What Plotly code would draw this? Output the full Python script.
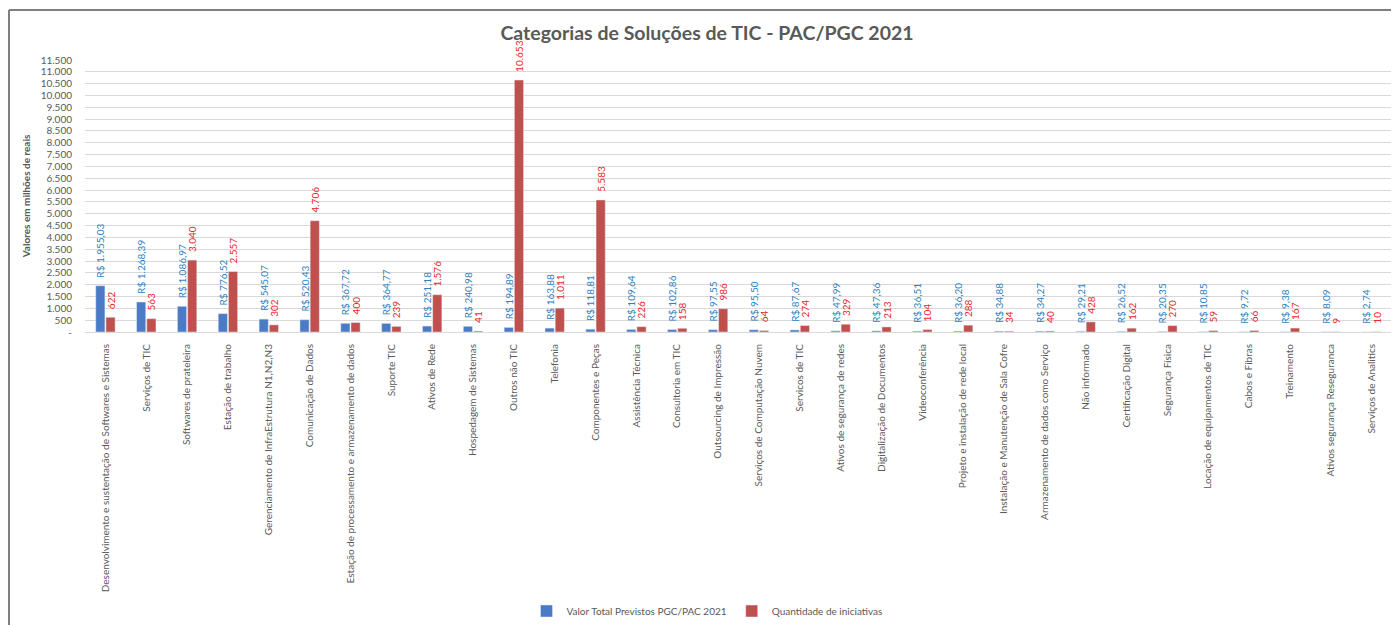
import plotly.graph_objects as go

categories = [
    "Desenvolvimento e sustentação de Softwares e Sistemas",
    "Serviços de TIC",
    "Softwares de prateleira",
    "Estação de trabalho",
    "Gerenciamento de InfraEstrutura N1,N2,N3",
    "Comunicação de Dados",
    "Estação de processamento e armazenamento de dados",
    "Suporte TIC",
    "Ativos de Rede",
    "Hospedagem de Sistemas",
    "Outros não TIC",
    "Telefonia",
    "Componentes e Peças",
    "Assistência Técnica",
    "Consultoria em TIC",
    "Outsourcing de Impressão",
    "Serviços de Computação Nuvem",
    "Servicos de TIC",
    "Ativos de segurança de redes",
    "Digitalização de Documentos",
    "Videoconferência",
    "Projeto e instalação de rede local",
    "Instalação e Manutenção de Sala Cofre",
    "Armazenamento de dados como Serviço",
    "Não informado",
    "Certificação Digital",
    "Segurança Física",
    "Locação de equipamentos de TIC",
    "Cabos e Fibras",
    "Treinamento",
    "Ativos segurança Reseguranca",
    "Serviços de Analitics",
]

valor_total = [1955.03, 1268.39, 1086.97, 776.52, 545.07, 520.43, 367.72, 364.77,
               251.18, 240.98, 194.89, 163.88, 118.81, 109.64, 102.86, 97.55,
               95.50, 87.67, 47.99, 47.36, 36.51, 36.20, 34.88, 34.27,
               29.21, 26.52, 20.35, 10.85, 9.72, 9.38, 8.09, 2.74]

quantidade = [622, 563, 3040, 2557, 302, 4706, 400, 239,
              1576, 41, 10653, 1011, 5583, 226, 158, 986,
              64, 274, 329, 213, 104, 288, 34, 40,
              428, 162, 270, 59, 66, 167, 9, 10]

y_tick_vals = [0, 500, 1000, 1500, 2000, 2500, 3000, 3500, 4000, 4500, 5000, 5500,
               6000, 6500, 7000, 7500, 8000, 8500, 9000, 9500, 10000, 10500, 11000, 11500]
y_tick_text = ["-", "500", "1.000", "1.500", "2.000", "2.500", "3.000", "3.500",
               "4.000", "4.500", "5.000", "5.500", "6.000", "6.500", "7.000", "7.500",
               "8.000", "8.500", "9.000", "9.500", "10.000", "10.500", "11.000", "11.500"]

FONT = "Lato"
GREY = "#595959"

# The page body has an 8px default margin, so the figure starts at (8, 8).
OFF = 8
W, H = 1399 - OFF, 625 - OFF
L, R, T, B = 85 - OFF, 7, 60 - OFF, 293
PW, PH = W - L - R, H - T - B

PAD = "\u00a0\u00a0"

fig = go.Figure()
fig.add_trace(go.Bar(
    x=categories, y=valor_total, name="Valor Total Previstos PGC/PAC 2021",
    marker=dict(color="#4A7BC4"),
    texttemplate=PAD + "R$ %{y:,.2f}", textposition="outside", textangle=-90,
    textfont=dict(family=FONT, size=10, color="#2C7FC3"),
    constraintext="none", cliponaxis=False,
))
fig.add_trace(go.Bar(
    x=categories, y=quantidade, name="Quantidade de iniciativas",
    marker=dict(color="#C0504D"),
    texttemplate=PAD + "%{y:,d}", textposition="outside", textangle=-90,
    textfont=dict(family=FONT, size=10, color="#E8262A"),
    constraintext="none", cliponaxis=False,
))

fig.update_layout(
    width=W, height=H,
    separators=",.",
    paper_bgcolor="white", plot_bgcolor="white",
    margin=dict(l=L, r=R, t=T, b=B, autoexpand=False),
    barmode="group", bargap=0.5, bargroupgap=0.1,
    font=dict(family=FONT, color=GREY),
    title=dict(text="<b>Categorias de Soluções de TIC - PAC/PGC 2021</b>",
               x=(707 - OFF) / W, xanchor="center", y=1 - (33 - OFF) / H, yanchor="middle",
               font=dict(family=FONT, size=19.5, color=GREY)),
    legend=dict(orientation="h", x=(707 - 85) / PW, xanchor="center",
                yref="container", y=1 - (611 - OFF) / H, yanchor="middle",
                font=dict(family=FONT, size=10, color=GREY),
                traceorder="normal", itemwidth=30),
    showlegend=True,
)
fig.update_xaxes(
    tickangle=-90, tickfont=dict(family=FONT, size=10, color=GREY),
    showline=True, linecolor="#D9D9D9", linewidth=1, showgrid=False,
    ticks="", ticklabelstandoff=7, automargin=False,
)
fig.update_yaxes(
    range=[0, 11500], tickvals=y_tick_vals, ticktext=y_tick_text,
    tickfont=dict(family=FONT, size=10, color=GREY),
    showgrid=True, gridcolor="#D9D9D9", gridwidth=1, zeroline=False,
    ticklabelstandoff=12, automargin=False,
    title=dict(text="<b>Valores em milhões de reais</b>",
               font=dict(family=FONT, size=10, color=GREY), standoff=8),
)

# chart frame (top and left edges), at the figure's own edges
top_y = (H - B - 2) / PH
left_x = (1 - L) / PW
fig.add_shape(type="line", xref="paper", yref="paper",
              x0=left_x, x1=1.2, y0=top_y, y1=top_y,
              line=dict(color="#7F7F7F", width=2))
fig.add_shape(type="line", xref="paper", yref="paper",
              x0=left_x, x1=left_x, y0=top_y, y1=-2,
              line=dict(color="#7F7F7F", width=2))

fig.write_html("out.html")
